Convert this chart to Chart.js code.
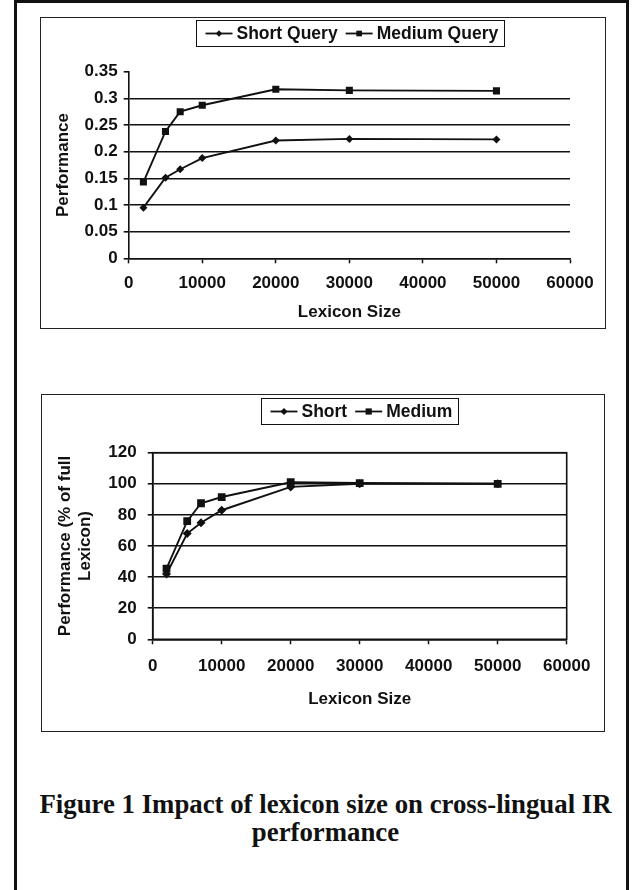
<!DOCTYPE html>
<html>
<head>
<meta charset="utf-8">
<script src="https://cdn.jsdelivr.net/npm/chart.js@4.4.1/dist/chart.umd.min.js"></script>
<style>
  body { margin: 0; background: #fff; width: 635px; height: 890px; overflow: hidden; position: relative; }
  .page { position: absolute; left: 14px; top: 0; width: 609px; height: 1000px; border: 3px solid #111; }
  .panel { position: absolute; border: 1px solid #222; background: #fff; }
  canvas { display: block; }
  .caption { position: absolute; left: 0; width: 651px; top: 790px; text-align: center;
    font: bold 26.8px/28px "Liberation Serif", "Times New Roman", serif; color: #111; }
</style>
</head>
<body>
<div class="page"></div>
<div class="panel" style="left:40px; top:17px;"><canvas id="graficoQuery" width="564" height="310"></canvas></div>
<div class="panel" style="left:41px; top:394px;"><canvas id="graficoPct" width="562" height="336"></canvas></div>
<div class="caption">Figure 1 Impact of lexicon size on cross-lingual IR<br>performance</div>
<script>
const lexiconSizes = [2000, 5000, 7000, 10000, 20000, 30000, 50000];
const shortQuery = [0.095, 0.151, 0.167, 0.188, 0.221, 0.224, 0.223];
const mediumQuery = [0.143, 0.238, 0.275, 0.287, 0.317, 0.315, 0.314];
const shortPct = [42, 68, 75, 83, 98, 100, 100];
const mediumPct = [45.5, 76, 87.5, 91.5, 101, 100.5, 100];
const sizeTicks = [0, 10000, 20000, 30000, 40000, 50000, 60000];
const perfTicks = [0, 0.05, 0.1, 0.15, 0.2, 0.25, 0.3, 0.35];
const pctTicks = [0, 20, 40, 60, 80, 100, 120];

const ink = "#111";

Chart.defaults.font.family = '"Liberation Sans", Arial, sans-serif';
Chart.defaults.font.weight = "bold";
Chart.defaults.font.size = 17;
Chart.defaults.font.lineHeight = 1.2;
Chart.defaults.color = ink;

function points(ys) {
  return lexiconSizes.map((x, i) => ({ x: x, y: ys[i] }));
}

function setTicks(values) {
  return (axis) => {
    axis.ticks = values.map((v) => ({ value: v }));
  };
}

// legend drawn inside a box, like the old spreadsheet charts
const boxLegend = {
  id: "boxLegend",
  afterDraw(chart, args, opts) {
    const ctx = chart.ctx;
    ctx.save();
    ctx.font = 'bold 17.5px "Liberation Sans", Arial, sans-serif';
    const items = chart.data.datasets.map((ds) => ({ ds: ds, w: ctx.measureText(ds.label).width }));
    let width = opts.padLeft + opts.padRight + opts.itemGap * (items.length - 1);
    items.forEach((it) => { width += opts.lineLen + opts.gap + it.w; });
    const cx = (chart.chartArea.left + chart.chartArea.right) / 2;
    let x = Math.round(cx - width / 2) + 0.5;
    const top = opts.top + 0.5;
    const midY = top + opts.height / 2;
    ctx.strokeStyle = ink;
    ctx.fillStyle = ink;
    ctx.lineWidth = 1;
    ctx.strokeRect(x, top, Math.round(width), opts.height);
    x += opts.padLeft;
    items.forEach((it) => {
      ctx.lineWidth = 1.8;
      ctx.beginPath();
      ctx.moveTo(x, midY);
      ctx.lineTo(x + opts.lineLen, midY);
      ctx.stroke();
      Chart.helpers.drawPoint(ctx, {
        pointStyle: it.ds.pointStyle,
        radius: it.ds.pointRadius * 0.8,
        rotation: 0,
        borderWidth: 0,
      }, x + opts.lineLen / 2, midY);
      ctx.textBaseline = "middle";
      ctx.textAlign = "left";
      ctx.fillText(it.ds.label, x + opts.lineLen + opts.gap, midY + 1);
      x += opts.lineLen + opts.gap + it.w + opts.itemGap;
    });
    ctx.restore();
  },
};

const plotFrame = {
  id: "plotFrame",
  beforeDatasetsDraw(chart, args, opts) {
    if (!opts.display) return;
    const a = chart.chartArea;
    const ctx = chart.ctx;
    ctx.save();
    ctx.strokeStyle = ink;
    ctx.lineWidth = 1.6;
    ctx.strokeRect(a.left, a.top, a.right - a.left, a.bottom - a.top);
    ctx.restore();
  },
};

function lineSet(label, ys, style, radius) {
  return {
    label: label,
    data: points(ys),
    borderColor: ink,
    backgroundColor: ink,
    borderWidth: 1.9,
    pointStyle: style,
    pointRadius: radius,
    pointBorderWidth: 0,
    pointBackgroundColor: ink,
    tension: 0,
    fill: false,
  };
}

const ctxQuery = document.getElementById("graficoQuery");

new Chart(ctxQuery, {
  type: "line",
  data: {
    datasets: [
      lineSet("Short Query", shortQuery, "rectRot", 4),
      lineSet("Medium Query", mediumQuery, "rect", 5),
    ],
  },
  plugins: [boxLegend, plotFrame],
  options: {
    responsive: false,
    animation: false,
    layout: { padding: { top: 53.7, right: 35, left: 0, bottom: 0 } },
    plugins: {
      legend: { display: false },
      tooltip: { enabled: false },
      boxLegend: { top: 2, height: 26, padLeft: 9, padRight: 6, lineLen: 27, gap: 4, itemGap: 8 },
      plotFrame: { display: false },
    },
    scales: {
      x: {
        type: "linear",
        min: 0,
        max: 60000,
        afterBuildTicks: setTicks(sizeTicks),
        afterFit: (axis) => { axis.height = 69.7; },
        ticks: { padding: 10, maxRotation: 0, callback: (v) => String(v) },
        grid: { drawOnChartArea: false, drawTicks: true, tickLength: 5, tickColor: ink, tickWidth: 1.5 },
        border: { display: true, color: ink, width: 1.6 },
        title: { display: true, text: "Lexicon Size", padding: { top: 0, bottom: 5.8 } },
      },
      y: {
        min: 0,
        max: 0.35,
        afterBuildTicks: setTicks(perfTicks),
        afterFit: (axis) => { axis.width = 87.7; },
        ticks: { padding: 6, callback: (v) => String(v) },
        grid: {
          color: (c) => (c.tick && c.tick.value === 0.35 ? "rgba(0,0,0,0)" : ink),
          lineWidth: 1.6,
          tickLength: 5,
          tickColor: ink,
        },
        border: { display: true, color: ink, width: 1.6 },
        title: { display: true, text: "Performance", padding: { top: 12, bottom: 0 } },
      },
    },
  },
});

const ctxPct = document.getElementById("graficoPct");

new Chart(ctxPct, {
  type: "line",
  data: {
    datasets: [
      lineSet("Short", shortPct, "rectRot", 4.5),
      lineSet("Medium", mediumPct, "rect", 5.5),
    ],
  },
  plugins: [boxLegend, plotFrame],
  options: {
    responsive: false,
    animation: false,
    layout: { padding: { top: 57.7, right: 37.3, left: 0, bottom: 0 } },
    plugins: {
      legend: { display: false },
      tooltip: { enabled: false },
      boxLegend: { top: 3, height: 26, padLeft: 9, padRight: 6, lineLen: 27, gap: 4, itemGap: 8 },
      plotFrame: { display: true },
    },
    scales: {
      x: {
        type: "linear",
        min: 0,
        max: 60000,
        afterBuildTicks: setTicks(sizeTicks),
        afterFit: (axis) => { axis.height = 91.7; },
        ticks: { padding: 12, maxRotation: 0, callback: (v) => String(v) },
        grid: { drawOnChartArea: false, drawTicks: true, tickLength: 5, tickColor: ink, tickWidth: 1.5 },
        border: { display: true, color: ink, width: 1.6 },
        title: { display: true, text: "Lexicon Size", padding: { top: 0, bottom: 21.8 } },
      },
      y: {
        min: 0,
        max: 120,
        afterBuildTicks: setTicks(pctTicks),
        afterFit: (axis) => { axis.width = 110.7; },
        ticks: { padding: 11, callback: (v) => String(v) },
        grid: { color: ink, lineWidth: 1.6, tickLength: 5, tickColor: ink },
        border: { display: true, color: ink, width: 1.6 },
        title: { display: true, text: ["Performance (% of full", "Lexicon)"], padding: { top: 12.8, bottom: 0 } },
      },
    },
  },
});
</script>
</body>
</html>
